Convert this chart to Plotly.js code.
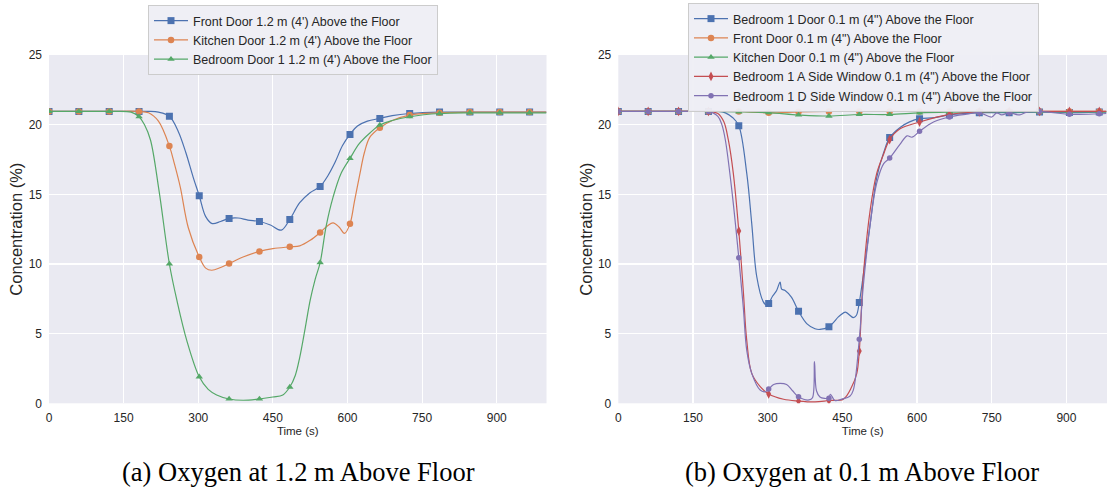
<!DOCTYPE html>
<html><head><meta charset="utf-8">
<script src="https://cdn.plot.ly/plotly-3.0.1.min.js"></script>
<style>html,body{margin:0;padding:0;background:#fff;}#chart{width:1107px;height:495px;}</style>
</head><body><div id="chart"></div>
<script>
// ---- data (time in s, O2 concentration in %) ----
const markerTimes = [0,60,121,181,242,302,362,423,484,545,605,665,725,785,846,906,966];

// (a) 1.2 m above floor
const frontDoor12T = [0,60,121,181,200,220,242,260,275,290,302,315,328,345,362,380,400,423,445,467,484,504,524,545,560,575,590,605,620,640,665,690,725,785,846,906,966,1000];
const frontDoor12V = [20.95,20.95,20.95,20.95,20.95,20.9,20.6,19.5,18.0,16.2,14.9,13.4,12.9,13.05,13.27,13.3,13.15,13.05,12.8,12.43,13.2,14.4,15.1,15.57,16.3,17.3,18.5,19.3,19.9,20.25,20.45,20.65,20.8,20.9,20.9,20.9,20.9,20.9];
const kitchenDoor12T = [0,60,121,181,200,220,242,252,264,280,302,315,327,345,362,390,423,450,484,504,525,545,560,571,583,594,605,614,624,634,645,665,690,725,785,846,906,966,1000];
const kitchenDoor12V = [20.95,20.95,20.95,20.95,20.85,20.25,18.46,17.2,15.5,12.6,10.5,9.7,9.55,9.75,10.03,10.5,10.9,11.1,11.23,11.3,11.7,12.26,12.75,12.95,12.65,12.19,12.88,14.5,16.3,18.0,19.1,19.78,20.3,20.69,20.85,20.9,20.9,20.9,20.9];
const bedroomDoor12T = [0,60,121,165,181,192,204,221,242,257,277,302,320,337,362,390,423,450,470,484,495,504,515,525,535,545,557,571,587,605,624,645,665,690,725,785,846,906,966,1000];
const bedroomDoor12V = [20.95,20.95,20.95,20.9,20.57,20.0,18.9,15.3,10.0,7.4,4.5,1.9,1.0,0.6,0.31,0.22,0.31,0.45,0.6,1.17,2.0,3.3,5.4,7.4,8.9,10.1,12.7,14.8,16.5,17.58,18.65,19.4,19.97,20.3,20.57,20.8,20.85,20.85,20.85,20.85];

// (b) 0.1 m above floor
const bedroom1Door01T = [0,60,121,181,200,215,230,242,258,268,278,291,298,302,310,318,325,328,335,348,362,379,395,405,423,442,447,456,472,478,484,495,506,519,533,545,566,585,605,635,665,725,785,846,906,966,980];
const bedroom1Door01V = [20.95,20.95,20.95,20.95,20.95,20.85,20.5,19.93,16.5,12.9,9.1,7.3,7.05,7.17,7.7,8.1,8.7,8.2,8.1,7.6,6.6,5.7,5.35,5.3,5.5,6.2,6.35,6.55,6.15,6.3,7.24,10.0,12.9,16.2,18.0,19.07,19.8,20.2,20.43,20.5,20.7,20.86,20.86,20.9,20.87,20.9,20.9];
const frontDoor01T = [0,60,121,181,242,302,362,423,484,545,605,665,725,785,846,906,966,980];
const frontDoor01V = [20.95,20.95,20.95,20.95,20.95,20.85,20.92,20.95,20.95,20.95,20.95,20.95,20.95,20.95,20.95,20.95,20.95,20.95];
const kitchenDoor01T = [0,60,121,181,242,302,362,423,484,545,605,665,725,785,846,906,966,980];
const kitchenDoor01V = [20.95,20.95,20.95,20.95,20.92,20.86,20.7,20.62,20.73,20.73,20.85,20.9,20.92,20.92,20.92,20.92,20.92,20.92];
const windowA01T = [0,60,121,181,200,212,221,231,242,251,258,268,285,302,332,362,395,423,452,469,479,484,492,506,519,533,545,566,605,665,725,785,846,906,966,980];
const windowA01V = [20.95,20.95,20.95,20.95,20.8,20.2,18.9,16.5,12.37,8.1,4.5,2.15,1.2,0.67,0.29,0.16,0.1,0.2,0.3,1.2,2.15,3.75,9.1,13.9,16.5,17.9,18.93,19.7,20.19,20.74,20.92,20.95,20.95,20.95,20.95,20.95];
const windowD01T = [0,60,121,181,200,208,215,228,242,251,258,268,285,295,302,312,325,338,350,362,383,390,394,398,405,415,423,426,435,449,465,472,484,492,506,519,533,545,566,580,590,605,633,665,700,725,750,760,770,785,806,820,846,906,966,980];
const windowD01V = [20.95,20.95,20.95,20.95,20.6,20.0,18.9,15.3,10.44,6.9,3.8,2.15,0.95,0.83,1.02,1.35,1.43,1.35,0.9,0.47,0.24,0.4,3.0,0.9,0.45,0.35,0.36,0.65,0.2,0.3,0.5,0.95,4.59,8.4,12.9,15.8,17.2,17.6,18.6,19.2,19.1,19.52,20.19,20.55,20.75,20.86,20.55,20.85,20.7,20.86,20.7,20.9,20.95,20.74,20.78,20.8];

const xTicks = [0,150,300,450,600,750,900];
const yTicks = [0,5,10,15,20,25];
const captionA = '(a) Oxygen at 1.2 m Above Floor';
const captionB = '(b) Oxygen at 0.1 m Above Floor';

// ---- styles ----
const C = {blue:'#4C72B0', orange:'#DD8452', green:'#55A868', red:'#C44E52', purple:'#8172B3'};
const panelA = [
  {name:"Front Door 1.2 m (4') Above the Floor", t:frontDoor12T, v:frontDoor12V, color:C.blue, symbol:'square', size:7},
  {name:"Kitchen Door 1.2 m (4') Above the Floor", t:kitchenDoor12T, v:kitchenDoor12V, color:C.orange, symbol:'circle', size:6.5},
  {name:"Bedroom Door 1 1.2 m (4') Above the Floor", t:bedroomDoor12T, v:bedroomDoor12V, color:C.green, symbol:'triangle-up', size:6.5}
];
const panelB = [
  {name:'Bedroom 1 Door 0.1 m (4") Above the Floor', t:bedroom1Door01T, v:bedroom1Door01V, color:C.blue, symbol:'square', size:7},
  {name:'Front Door 0.1 m (4") Above the Floor', t:frontDoor01T, v:frontDoor01V, color:C.orange, symbol:'circle', size:6.5},
  {name:'Kitchen Door 0.1 m (4") Above the Floor', t:kitchenDoor01T, v:kitchenDoor01V, color:C.green, symbol:'triangle-up', size:6.5},
  {name:'Bedroom 1 A Side Window 0.1 m (4") Above the Floor', t:windowA01T, v:windowA01V, color:C.red, symbol:'diamond-tall', size:7},
  {name:'Bedroom 1 D Side Window 0.1 m (4") Above the Floor', t:windowD01T, v:windowD01V, color:C.purple, symbol:'circle', size:5.5}
];

function build(s, xa, ya, leg) {
  const idx = s.t.map((t,i)=>markerTimes.includes(t)?i:-1).filter(i=>i>=0);
  const line = {color:s.color, width:1.2, shape:'spline', smoothing:1};
  const marker = {color:s.color, symbol:s.symbol, size:s.size, line:{width:0}};
  return [
    {x:s.t, y:s.v, xaxis:xa, yaxis:ya, mode:'lines', line:line, showlegend:false, hoverinfo:'skip'},
    {x:idx.map(i=>s.t[i]), y:idx.map(i=>s.v[i]), xaxis:xa, yaxis:ya, mode:'markers', marker:marker, showlegend:false},
    {x:[null], y:[null], xaxis:xa, yaxis:ya, mode:'lines+markers', name:s.name, legend:leg, line:{color:s.color, width:1.2}, marker:marker}
  ];
}
let data = [];
panelA.forEach(s=>{data = data.concat(build(s,'x','y','legend'));});
panelB.forEach(s=>{data = data.concat(build(s,'x2','y2','legend2'));});

const W = 1107, H = 495;
const tickFont = {family:'Liberation Sans, Arial, sans-serif', size:12, color:'#262626'};
function xax(dom, rng) {
  return {domain:dom, range:rng, tickvals:xTicks, ticktext:xTicks.map(String), showgrid:true, gridcolor:'#ffffff', gridwidth:1.1,
    zeroline:false, showline:false, ticks:'', tickfont:tickFont, ticklabelstandoff:6,
    title:{text:'Time (s)', font:{family:'Liberation Sans, Arial, sans-serif', size:11.5, color:'#262626'}, standoff:2}};
}
function yax(dom, anchor) {
  return {domain:dom, range:[0,25], anchor:anchor, tickvals:yTicks, ticktext:yTicks.map(String), showgrid:true, gridcolor:'#ffffff', gridwidth:1.1,
    zeroline:false, showline:false, ticks:'', tickfont:tickFont, ticklabelstandoff:6,
    title:{text:'Concentration (%)', font:{family:'Liberation Sans, Arial, sans-serif', size:16.5, color:'#262626'}, standoff:1}};
}
const yDom = [(H-403.3)/H, (H-55)/H];
const legStyle = {bgcolor:'rgba(238,238,244,0.95)', bordercolor:'#cccccc', borderwidth:1,
  font:{family:'Liberation Sans, Arial, sans-serif', size:12.5, color:'#262626'}, xanchor:'left', yanchor:'top', tracegroupgap:0, itemwidth:34};
const layout = {
  width:W, height:H, margin:{l:0,r:0,t:0,b:0}, paper_bgcolor:'#ffffff', plot_bgcolor:'#EAEAF2',
  xaxis: Object.assign(xax([49/W, 546.5/W],[0,1000]), {anchor:'y'}),
  yaxis: yax(yDom,'x'),
  xaxis2: Object.assign(xax([618.3/W, 1],[0,981.5]), {anchor:'y2'}),
  yaxis2: yax(yDom,'x2'),
  legend: Object.assign({x:148/W, y:1-5/H}, legStyle),
  legend2: Object.assign({x:688/W, y:1-3/H}, legStyle),
  annotations:[
    {text:captionA, xref:'paper', yref:'paper', x:298/W, y:1-472/H, xanchor:'center', yanchor:'middle', showarrow:false,
     font:{family:'Liberation Serif, Times New Roman, serif', size:26.5, color:'#000'}},
    {text:captionB, xref:'paper', yref:'paper', x:862/W, y:1-472/H, xanchor:'center', yanchor:'middle', showarrow:false,
     font:{family:'Liberation Serif, Times New Roman, serif', size:26.5, color:'#000'}}
  ],
  showlegend:true
};
Plotly.newPlot('chart', data, layout, {staticPlot:true, displayModeBar:false});
</script></body></html>
